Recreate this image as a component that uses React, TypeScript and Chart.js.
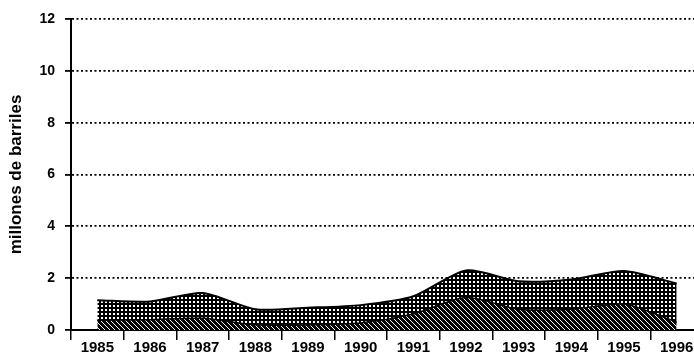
import React, { useEffect, useRef } from "react";
import { Chart, registerables } from "chart.js";

Chart.register(...registerables);

const years = ["1985", "1986", "1987", "1988", "1989", "1990", "1991", "1992", "1993", "1994", "1995", "1996"];
const lowerSeries = [0.38, 0.4, 0.45, 0.2, 0.2, 0.27, 0.62, 1.25, 0.8, 0.8, 1.0, 0.3];
const totalSeries = [1.15, 1.1, 1.43, 0.8, 0.86, 0.96, 1.3, 2.3, 1.88, 1.95, 2.28, 1.8];
const yTicks = [0, 2, 4, 6, 8, 10, 12];
const yTitle = "millones de barriles";

function makeDotPattern(): CanvasPattern | string {
  const c = document.createElement("canvas");
  c.width = 4;
  c.height = 4;
  const g = c.getContext("2d");
  if (!g) return "#444";
  g.fillStyle = "#000";
  g.fillRect(0, 0, 4, 4);
  g.fillStyle = "#fff";
  g.fillRect(1, 1, 2, 2);
  return g.createPattern(c, "repeat") || "#444";
}

function makeHatchPattern(): CanvasPattern | string {
  const n = 5;
  const c = document.createElement("canvas");
  c.width = n;
  c.height = n;
  const g = c.getContext("2d");
  if (!g) return "#111";
  g.fillStyle = "#000";
  g.fillRect(0, 0, n, n);
  g.fillStyle = "#fff";
  for (let i = 0; i < n; i++) g.fillRect(i, i, 1, 1);
  return g.createPattern(c, "repeat") || "#111";
}

export default function App() {
  const ref = useRef<HTMLCanvasElement | null>(null);

  useEffect(() => {
    document.body.style.margin = "0";
    if (!ref.current) return;
    const font = "'Liberation Sans', Arial, sans-serif";
    const chart = new Chart(ref.current, {
      type: "line",
      data: {
        labels: years,
        datasets: [
          {
            data: lowerSeries,
            borderColor: "#000",
            borderWidth: 1.5,
            backgroundColor: makeHatchPattern() as any,
            fill: "origin",
            pointRadius: 0,
            tension: 0.25,
          },
          {
            data: totalSeries,
            borderColor: "#000",
            borderWidth: 2,
            backgroundColor: makeDotPattern() as any,
            fill: "-1",
            pointRadius: 0,
            tension: 0.25,
          },
        ],
      },
      options: {
        animation: false,
        responsive: false,
        maintainAspectRatio: false,
        layout: { padding: { top: 19, right: 9, left: 0, bottom: 0 } },
        plugins: { legend: { display: false }, tooltip: { enabled: false } },
        scales: {
          x: {
            offset: true,
            grid: {
              offset: true,
              drawOnChartArea: false,
              drawTicks: true,
              tickLength: 10,
              color: "#000",
              lineWidth: 1.5,
            },
            border: { display: true, color: "#000", width: 2 },
            ticks: {
              color: "#000",
              padding: 0,
              maxRotation: 0,
              autoSkip: false,
              font: { family: font, size: 15, weight: "bold", lineHeight: 1 },
            },
          },
          y: {
            min: 0,
            max: 12,
            afterBuildTicks: (scale: any) => {
              scale.ticks = yTicks.map((v) => ({ value: v }));
            },
            afterFit: (scale: any) => {
              scale.width = 71;
            },
            grid: {
              color: "#000",
              lineWidth: 1.8,
              tickLength: 6,
              tickBorderDash: [],
            },
            border: { display: true, color: "#000", width: 2, dash: [2, 2.5] },
            ticks: {
              color: "#000",
              padding: 10,
              font: { family: font, size: 14, weight: "bold" },
            },
            title: {
              display: true,
              text: yTitle,
              color: "#000",
              padding: { top: 6, bottom: 0 },
              font: { family: font, size: 17, weight: "bold" },
            },
          },
        },
      },
    });
    return () => chart.destroy();
  }, []);

  return (
    <div style={{ width: 694, height: 354, overflow: "hidden", position: "relative", background: "#fff" }}>
      <canvas ref={ref} width={712} height={355} style={{ width: 712, height: 355, display: "block" }} />
    </div>
  );
}
